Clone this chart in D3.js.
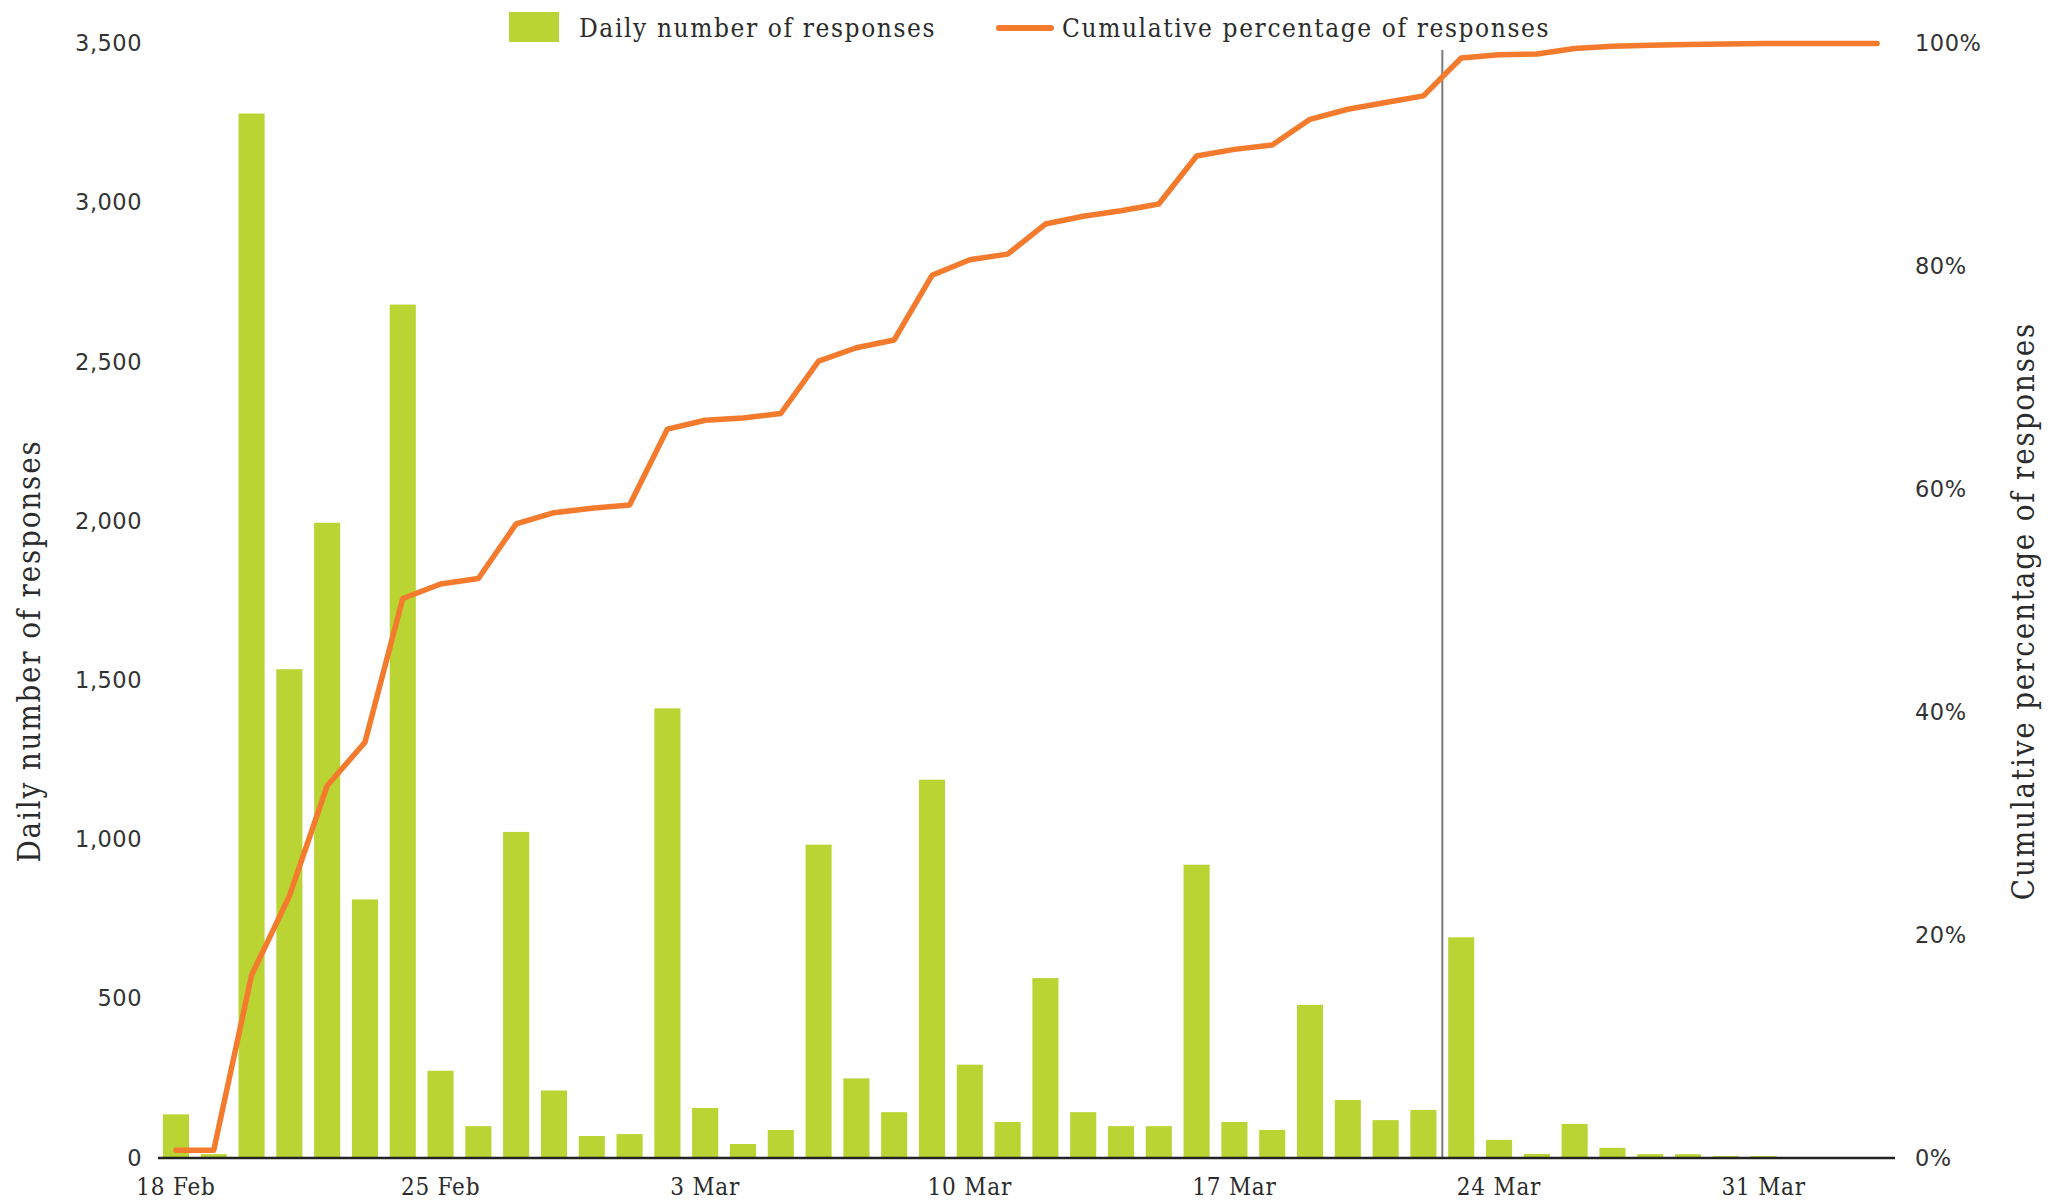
<!DOCTYPE html>
<html>
<head>
<meta charset="utf-8">
<script src="https://cdn.jsdelivr.net/npm/d3@7"></script>
<style>
  html, body { margin: 0; padding: 0; background: #fff; }
  svg { display: block; }
</style>
</head>
<body>
<svg id="chart" width="2064" height="1202"></svg>
<script>
// ---------------- DATA ----------------
const dates = [
  "18 Feb","19 Feb","20 Feb","21 Feb","22 Feb","23 Feb","24 Feb","25 Feb","26 Feb","27 Feb","28 Feb","29 Feb",
  "1 Mar","2 Mar","3 Mar","4 Mar","5 Mar","6 Mar","7 Mar","8 Mar","9 Mar","10 Mar","11 Mar","12 Mar","13 Mar",
  "14 Mar","15 Mar","16 Mar","17 Mar","18 Mar","19 Mar","20 Mar","21 Mar","22 Mar","23 Mar","24 Mar","25 Mar",
  "26 Mar","27 Mar","28 Mar","29 Mar","30 Mar","31 Mar","1 Apr","2 Apr","3 Apr"
];
const dailyResponses = [
  137, 12, 3280, 1535, 1995, 812, 2680, 274, 100, 1024, 212, 69,
  75, 1412, 157, 44, 88, 984, 250, 144, 1188, 293, 113, 565, 144,
  100, 100, 921, 113, 88, 481, 182, 119, 151, 693, 57, 13,
  107, 32, 12, 12, 6, 6, 0, 0, 0
];
const cumulativePct = [
  0.7, 0.7, 16.4, 23.5, 33.4, 37.3, 50.2, 51.5, 52.0, 56.9, 57.9, 58.3,
  58.6, 65.4, 66.2, 66.4, 66.8, 71.5, 72.7, 73.4, 79.2, 80.6, 81.1, 83.8, 84.5,
  85.0, 85.6, 89.9, 90.5, 90.9, 93.2, 94.1, 94.7, 95.3, 98.7, 99.0, 99.05,
  99.55, 99.75, 99.85, 99.9, 99.95, 100, 100, 100, 100
];
const xTickLabels = ["18 Feb","25 Feb","3 Mar","10 Mar","17 Mar","24 Mar","31 Mar"];
const leftTicks = [0, 500, 1000, 1500, 2000, 2500, 3000, 3500];
const rightTicks = [0, 20, 40, 60, 80, 100];
const markerDate = "23 Mar";
const seriesNames = ["Daily number of responses", "Cumulative percentage of responses"];
const axisTitles = ["Daily number of responses", "Cumulative percentage of responses"];

// ---------------- LAYOUT ----------------
const GREEN = "#b9d433", ORANGE = "#f47b2d", TEXT = "#2b2b2b";
const serif = "'DejaVu Serif Condensed', 'DejaVu Serif', serif";
const sans = "'DejaVu Sans ExtraLight', 'DejaVu Sans', sans-serif";
const plotLeft = 158, plotRight = 1895, plotTop = 43.5, plotBottom = 1158;

const svg = d3.select("#chart");

const x = d3.scaleBand().domain(dates).range([plotLeft, plotRight]).paddingInner(0.31).paddingOuter(0.13);
const yL = d3.scaleLinear().domain([0, 3500]).range([plotBottom, plotTop]);
const yR = d3.scaleLinear().domain([0, 100]).range([plotBottom, plotTop]);
const cx = d => x(d) + x.bandwidth() / 2;

// bars
svg.append("g").selectAll("rect")
  .data(dates.map((d, i) => ({d, v: dailyResponses[i]})).filter(o => o.v > 0))
  .join("rect")
  .attr("x", o => x(o.d))
  .attr("width", x.bandwidth())
  .attr("y", o => yL(o.v))
  .attr("height", o => plotBottom - yL(o.v))
  .attr("fill", GREEN);

// marker line
const mx = x(markerDate) - x.step() * x.paddingInner() / 2;
svg.append("line")
  .attr("x1", mx).attr("x2", mx)
  .attr("y1", 50).attr("y2", plotBottom)
  .attr("stroke", "#7a7a7a").attr("stroke-width", 2);

// baseline axis
svg.append("line")
  .attr("x1", plotLeft).attr("x2", plotRight)
  .attr("y1", plotBottom).attr("y2", plotBottom)
  .attr("stroke", "#222").attr("stroke-width", 2.5);

// cumulative line
const line = d3.line().x((d, i) => cx(dates[i])).y(d => yR(d));
svg.append("path")
  .datum(cumulativePct)
  .attr("d", line)
  .attr("fill", "none")
  .attr("stroke", ORANGE)
  .attr("stroke-width", 5.5)
  .attr("stroke-linejoin", "round")
  .attr("stroke-linecap", "round");

// left axis
const gL = svg.append("g").attr("transform", `translate(142,0)`)
  .call(d3.axisLeft(yL).tickValues(leftTicks).tickSize(0).tickPadding(0).tickFormat(d3.format(",")));
gL.select(".domain").remove();
gL.selectAll("text").attr("font-family", sans).attr("font-size", 22.5).attr("fill", "#333")
  .attr("letter-spacing", 0.5);

// right axis
const gR = svg.append("g").attr("transform", `translate(1915,0)`)
  .call(d3.axisRight(yR).tickValues(rightTicks).tickSize(0).tickPadding(0).tickFormat(d => d + "%"));
gR.select(".domain").remove();
gR.selectAll("text").attr("font-family", sans).attr("font-size", 22.5).attr("fill", "#333")
  .attr("letter-spacing", 0.5);

// bottom axis
const gB = svg.append("g").attr("transform", `translate(0,${plotBottom})`)
  .call(d3.axisBottom(x).tickValues(xTickLabels).tickSize(0).tickPadding(0));
gB.select(".domain").remove();
gB.selectAll("text").attr("font-family", serif).attr("font-size", 24).attr("fill", TEXT)
  .attr("letter-spacing", 0.8)
  .attr("dy", null).attr("y", 37);

// axis titles
svg.append("text")
  .attr("transform", "translate(40,651) rotate(-90)")
  .attr("text-anchor", "middle")
  .attr("font-family", serif).attr("font-size", 31).attr("fill", TEXT)
  .attr("letter-spacing", 1.8)
  .text(axisTitles[0]);
svg.append("text")
  .attr("transform", "translate(2034,611) rotate(-90)")
  .attr("text-anchor", "middle")
  .attr("font-family", serif).attr("font-size", 31).attr("fill", TEXT)
  .attr("letter-spacing", 1.8)
  .text(axisTitles[1]);

// legend
const lg = svg.append("g");
lg.append("rect").attr("x", 509).attr("y", 12).attr("width", 50).attr("height", 30).attr("fill", GREEN);
lg.append("text").attr("x", 579).attr("y", 37)
  .attr("font-family", serif).attr("font-size", 26).attr("fill", TEXT)
  .attr("letter-spacing", 1.6).text(seriesNames[0]);
lg.append("line").attr("x1", 999).attr("x2", 1051).attr("y1", 28).attr("y2", 28)
  .attr("stroke", ORANGE).attr("stroke-width", 6).attr("stroke-linecap", "round");
lg.append("text").attr("x", 1062).attr("y", 37)
  .attr("font-family", serif).attr("font-size", 26).attr("fill", TEXT)
  .attr("letter-spacing", 1.6).text(seriesNames[1]);
</script>
</body>
</html>
